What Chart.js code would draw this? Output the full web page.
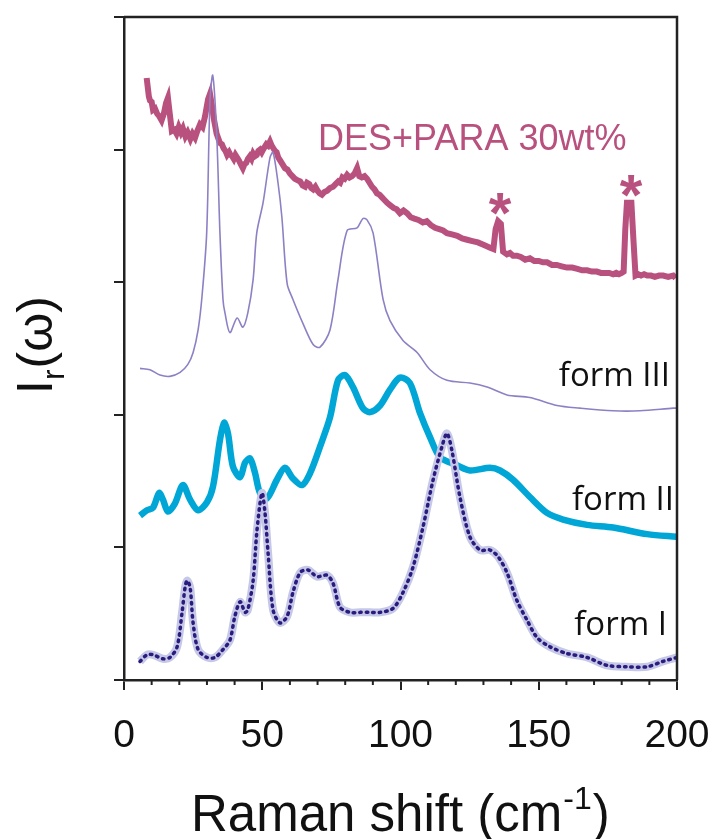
<!DOCTYPE html>
<html>
<head>
<meta charset="utf-8">
<script src="https://cdn.jsdelivr.net/npm/chart.js@4"></script>
<style>
  html, body { margin: 0; padding: 0; background: #fff; }
  #wrap { width: 712px; height: 839px; position: relative; }
</style>
</head>
<body>
<div id="wrap"><canvas id="chart"></canvas></div>
<script>
// x in cm-1, y in arbitrary offset units (0..5)
const xTicks = [0, 50, 100, 150, 200];

const desX = [8.2, 8.6, 9.0, 9.4, 10.0, 10.5, 11.2, 12.0, 12.8, 13.6, 14.4, 15.2, 15.9, 16.5, 17.3, 18.2, 19.0, 19.8, 20.6, 21.3,
  22.2, 23.0, 24.0, 24.8, 25.7, 26.5, 27.5, 28.4, 29.3, 30.4, 31.1, 31.8, 32.6, 33.5, 34.7, 35.4, 36.0, 36.7, 37.3, 38.0,
  38.5, 39.1, 39.7, 40.3, 40.9, 41.5, 42.0, 42.5, 43.0, 43.6, 44.2, 44.8, 45.5, 46.1, 46.7, 47.3, 48.0, 48.6, 49.2, 49.8,
  50.3, 50.9, 51.5, 52.1, 52.8, 53.4, 54.0, 54.6, 55.2, 55.8, 56.4, 57.3, 58.2, 59.1, 60.0, 60.9, 61.8, 62.7, 63.7, 64.6,
  65.5, 66.2, 67.0, 67.7, 68.4, 69.2, 70.0, 70.8, 71.6, 72.5, 73.5, 74.5, 75.6, 76.5, 77.5, 78.2, 79.0, 79.8, 80.7, 81.6,
  82.5, 83.4, 84.3, 85.1, 86.0, 87.0, 87.9, 88.8, 89.7, 90.6, 91.5, 92.4, 93.3, 94.2, 95.1, 96.3, 97.5, 98.6, 99.8, 101.1,
  102.4, 103.7, 105.0, 106.5, 108.1, 109.5, 111.0, 112.5, 114.0, 115.4, 116.8, 118.6, 120.5, 122.3, 124.1, 126.0, 128.0, 130.2, 132.4, 133.6,
  134.4, 135.3, 136.3, 137.1, 138.5, 139.6, 140.7, 142.1, 143.5, 145.1, 146.8, 148.4, 150.0, 151.5, 153.0, 154.8, 156.5, 158.3, 160.2, 162.1,
  164.0, 165.7, 167.5, 169.2, 171.0, 172.5, 174.0, 175.5, 176.9, 178.0, 179.0, 180.0, 180.7, 181.3, 181.9, 183.5, 184.3, 185.0, 186.0, 187.0,
  188.1, 189.2, 190.6, 192.0, 193.5, 195.0, 196.8, 198.6, 199.5];
const desY = [4.54, 4.47, 4.40, 4.37, 4.36, 4.30, 4.31, 4.27, 4.25, 4.22, 4.27, 4.35, 4.39, 4.28, 4.14, 4.15, 4.12, 4.17, 4.13, 4.16,
  4.10, 4.13, 4.08, 4.12, 4.09, 4.14, 4.19, 4.17, 4.25, 4.38, 4.42, 4.33, 4.22, 4.12, 4.05, 4.04, 4.01, 3.99, 3.96, 3.98,
  3.96, 3.95, 3.93, 3.96, 3.94, 3.92, 3.90, 3.88, 3.86, 3.89, 3.90, 3.93, 3.95, 3.93, 3.97, 3.95, 3.96, 3.99, 4.00, 3.98,
  4.00, 4.02, 4.04, 4.03, 4.06, 4.03, 4.01, 3.99, 3.98, 3.94, 3.92, 3.89, 3.86, 3.85, 3.82, 3.80, 3.78, 3.77, 3.76, 3.73,
  3.72, 3.75, 3.74, 3.71, 3.70, 3.72, 3.69, 3.67, 3.66, 3.68, 3.69, 3.71, 3.72, 3.74, 3.76, 3.75, 3.79, 3.78, 3.81, 3.79,
  3.80, 3.82, 3.86, 3.80, 3.79, 3.80, 3.78, 3.75, 3.72, 3.70, 3.67, 3.66, 3.64, 3.62, 3.60, 3.58, 3.56, 3.55, 3.52, 3.54,
  3.52, 3.49, 3.48, 3.47, 3.45, 3.46, 3.43, 3.41, 3.40, 3.39, 3.37, 3.36, 3.35, 3.33, 3.32, 3.31, 3.30, 3.28, 3.26, 3.25,
  3.40, 3.46, 3.44, 3.23, 3.21, 3.22, 3.20, 3.20, 3.19, 3.17, 3.18, 3.16, 3.16, 3.15, 3.15, 3.13, 3.13, 3.12, 3.11, 3.11,
  3.10, 3.09, 3.09, 3.08, 3.08, 3.07, 3.07, 3.07, 3.06, 3.07, 3.06, 3.07, 3.08, 3.40, 3.60, 3.60, 3.30, 3.05, 3.06, 3.05,
  3.06, 3.05, 3.05, 3.04, 3.05, 3.05, 3.04, 3.05, 3.03];

const form3X = [5.8, 9.4, 13.0, 16.6, 20.3, 23.1, 25.0, 26.8, 28.2, 29.9, 31.1, 32.1, 33.5, 34.7, 35.8, 36.5, 38.3, 40.9, 43.0, 44.8, 46.7, 48.0, 50.3, 52.8, 53.9, 55.7, 57.1, 59.0, 61.1, 64.7, 68.4, 70.9, 74.5, 77.4, 80.7, 84.3, 86.4, 87.9, 90.1, 93.7, 96.2, 100.9, 106.0, 110.7, 116.8, 125.1, 131.3, 138.5, 146.8, 156.6, 164.9, 176.9, 186.6, 198.6, 200];
const form3Y = [2.35, 2.34, 2.30, 2.29, 2.32, 2.38, 2.47, 2.64, 2.89, 3.37, 4.37, 4.56, 4.13, 3.37, 2.87, 2.77, 2.62, 2.73, 2.66, 2.77, 3.02, 3.37, 3.60, 3.94, 3.98, 3.75, 3.49, 2.99, 2.87, 2.69, 2.53, 2.51, 2.64, 3.02, 3.39, 3.41, 3.48, 3.47, 3.37, 2.87, 2.71, 2.56, 2.47, 2.34, 2.26, 2.24, 2.21, 2.15, 2.13, 2.07, 2.05, 2.03, 2.03, 2.05, 2.05];

const form2X = [5.8, 8.3, 10.5, 12.7, 14.1, 15.9, 18.4, 21.3, 23.9, 26.8, 30.0, 32.2, 34.7, 36.2, 37.6, 39.4, 42.0, 43.8, 45.6, 47.4, 49.2, 51.7, 55.3, 58.2, 61.1, 64.4, 67.3, 70.9, 74.5, 77.4, 79.9, 82.8, 86.4, 89.0, 92.6, 96.2, 99.8, 103.4, 107.1, 110.7, 114.3, 120.4, 125.1, 132.4, 136.0, 140.7, 146.8, 153.0, 158.8, 167.5, 176.9, 189.2, 200];
const form2Y = [1.24, 1.28, 1.30, 1.41, 1.36, 1.27, 1.33, 1.47, 1.36, 1.28, 1.34, 1.46, 1.81, 1.94, 1.86, 1.61, 1.53, 1.64, 1.67, 1.56, 1.41, 1.37, 1.51, 1.60, 1.52, 1.47, 1.56, 1.76, 1.98, 2.26, 2.30, 2.21, 2.05, 2.02, 2.07, 2.19, 2.28, 2.24, 2.01, 1.83, 1.68, 1.62, 1.58, 1.60, 1.58, 1.51, 1.38, 1.26, 1.21, 1.17, 1.15, 1.10, 1.08];

const form1X = [5.8, 8.3, 10.5, 14.1, 16.6, 19.2, 21.0, 22.1, 22.8, 23.9, 25.0, 26.8, 30.0, 32.9, 35.8, 38.3, 40.1, 42.0, 43.8, 44.8, 46.7, 48.1, 49.9, 51.0, 52.1, 53.9, 56.4, 59.0, 61.1, 63.7, 66.5, 69.8, 73.4, 75.6, 78.1, 81.7, 85.4, 89.0, 92.6, 97.3, 100.9, 104.5, 108.1, 111.8, 115.0, 116.8, 118.6, 121.5, 125.1, 128.8, 132.4, 135.3, 138.5, 142.1, 145.8, 149.4, 154.1, 160.2, 167.5, 174.7, 181.9, 189.2, 194.9, 200];
const form1Y = [0.14, 0.19, 0.19, 0.16, 0.17, 0.25, 0.51, 0.70, 0.75, 0.70, 0.43, 0.23, 0.17, 0.17, 0.23, 0.30, 0.48, 0.59, 0.51, 0.53, 0.75, 1.13, 1.41, 1.26, 0.96, 0.53, 0.43, 0.48, 0.66, 0.81, 0.83, 0.78, 0.79, 0.73, 0.55, 0.51, 0.51, 0.51, 0.51, 0.54, 0.66, 0.85, 1.15, 1.51, 1.76, 1.86, 1.73, 1.38, 1.08, 0.98, 0.98, 0.93, 0.81, 0.60, 0.45, 0.32, 0.25, 0.20, 0.17, 0.11, 0.10, 0.10, 0.14, 0.17];

function toPoints(xs, ys) {
  return xs.map((x, i) => ({ x, y: ys[i] }));
}

const AXIS = "#222";
const FONT = "'Liberation Sans', Arial, sans-serif";

const decor = {
  id: "decor",
  afterDraw(chart) {
    const { ctx, chartArea: a, scales } = chart;
    ctx.save();

    // top and right frame
    ctx.strokeStyle = AXIS;
    ctx.lineWidth = 2.5;
    ctx.beginPath();
    ctx.moveTo(a.left, a.top);
    ctx.lineTo(a.right, a.top);
    ctx.lineTo(a.right, a.bottom);
    ctx.stroke();

    // minor x ticks
    ctx.lineWidth = 2;
    for (let v = 10; v < 200; v += 10) {
      if (v % 50 === 0) continue;
      const px = scales.x.getPixelForValue(v);
      ctx.beginPath();
      ctx.moveTo(px, a.bottom);
      ctx.lineTo(px, a.bottom + 5);
      ctx.stroke();
    }

    // x title with superscript
    ctx.fillStyle = "#111";
    ctx.textBaseline = "alphabetic";
    ctx.textAlign = "left";
    ctx.font = `51px ${FONT}`;
    let x = 191;
    const base = 831;
    const main = "Raman shift (cm";
    ctx.fillText(main, x, base);
    x += ctx.measureText(main).width;
    ctx.font = `32px ${FONT}`;
    ctx.fillText("-1", x + 1, base - 22);
    x += ctx.measureText("-1").width + 2;
    ctx.font = `51px ${FONT}`;
    ctx.fillText(")", x, base);

    // y title with subscript, rotated
    ctx.save();
    ctx.translate(52, 394);
    ctx.rotate(-Math.PI / 2);
    ctx.font = `50px ${FONT}`;
    ctx.fillText("I", 0, 0);
    let yx = ctx.measureText("I").width;
    ctx.font = `32px ${FONT}`;
    ctx.fillText("r", yx, 12);
    yx += ctx.measureText("r").width + 1;
    ctx.font = `50px ${FONT}`;
    ctx.fillText("(\u03c9)", yx, 0);
    ctx.restore();

    // annotations
    ctx.fillStyle = "#B9517F";
    ctx.font = `36px ${FONT}`;
    ctx.fillText("DES+PARA 30wt%", 318, 150);
    ctx.font = `bold 58px ${FONT}`;
    ctx.textAlign = "center";
    ctx.fillText("*", 500, 233);
    ctx.fillText("*", 631, 215);

    ctx.fillStyle = "#111";
    ctx.textAlign = "right";
    ctx.font = `33px 'Open Sans', sans-serif`;
    ctx.fillText("form III", 670, 386);
    ctx.fillText("form II", 674, 510);
    ctx.fillText("form I", 667, 635);

    ctx.restore();
  },
};

new Chart(document.getElementById("chart"), {
  type: "line",
  data: {
    datasets: [
      {
        label: "form I",
        data: toPoints(form1X, form1Y),
        borderColor: "#2B1B7E",
        borderWidth: 3.5,
        borderDash: [1.5, 5],
        borderCapStyle: "round",
        pointRadius: 0,
        tension: 0.3,
        order: 0,
      },
      {
        label: "form I halo",
        data: toPoints(form1X, form1Y),
        borderColor: "#C5C8E6",
        borderWidth: 8,
        pointRadius: 0,
        tension: 0.3,
        order: 1,
      },
      {
        label: "form II",
        data: toPoints(form2X, form2Y),
        borderColor: "#00A6D6",
        borderWidth: 6.5,
        pointRadius: 0,
        tension: 0.3,
        order: 2,
      },
      {
        label: "form III",
        data: toPoints(form3X, form3Y),
        borderColor: "#8E80C4",
        borderWidth: 1.6,
        pointRadius: 0,
        tension: 0.3,
        order: 3,
      },
      {
        label: "DES+PARA 30wt%",
        data: toPoints(desX, desY),
        borderColor: "#B9517F",
        borderWidth: 6,
        pointRadius: 0,
        tension: 0,
        order: 4,
      },
    ],
  },
  options: {
    responsive: true,
    maintainAspectRatio: false,
    animation: false,
    layout: { padding: { top: 17, right: 35, left: 0, bottom: 0 } },
    plugins: { legend: { display: false }, tooltip: { enabled: false } },
    scales: {
      x: {
        type: "linear",
        min: 0,
        max: 200,
        border: { color: AXIS, width: 2.5 },
        grid: {
          drawOnChartArea: false,
          tickLength: 10,
          lineWidth: 2,
          tickColor: (c) => (c.tick && xTicks.includes(c.tick.value) ? AXIS : "rgba(0,0,0,0)"),
        },
        ticks: {
          stepSize: 10,
          autoSkip: false,
          maxRotation: 0,
          padding: 23,
          color: "#111",
          font: { family: FONT, size: 39 },
          callback: (v) => (xTicks.includes(v) ? String(v) : ""),
        },
        afterFit: (s) => { s.height = 159; s.paddingLeft = 0; s.paddingRight = 0; },
      },
      y: {
        type: "linear",
        min: 0,
        max: 5,
        border: { color: AXIS, width: 2.5 },
        grid: { drawOnChartArea: false, tickLength: 10, lineWidth: 2, tickColor: AXIS },
        ticks: { stepSize: 1, display: false },
        afterFit: (s) => { s.width = 124; s.paddingTop = 0; s.paddingBottom = 0; },
      },
    },
  },
  plugins: [decor],
});
</script>
</body>
</html>
